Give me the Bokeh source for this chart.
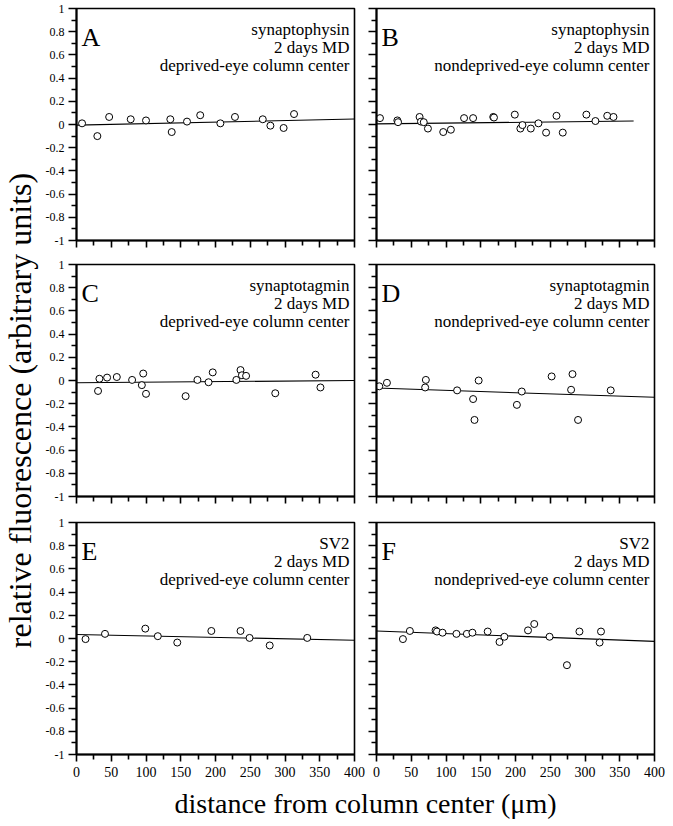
import numpy as np
from bokeh.plotting import figure
from bokeh.models import FixedTicker, Label, Range1d, CustomJSTickFormatter
from bokeh.layouts import row, column
from bokeh.embed import file_html
from bokeh.resources import INLINE

FONT = "Liberation Serif"

# ---------------- data ----------------
x_ticks = [0, 50, 100, 150, 200, 250, 300, 350, 400]
x_minor = [25, 75, 125, 175, 225, 275, 325, 375]
y_ticks = [-1, -0.8, -0.6, -0.4, -0.2, 0, 0.2, 0.4, 0.6, 0.8, 1]
y_tick_labels = ["-1", "-0.8", "-0.6", "-0.4", "-0.2", "0", "0.2", "0.4", "0.6", "0.8", "1"]
y_minor = [-0.9, -0.7, -0.5, -0.3, -0.1, 0.1, 0.3, 0.5, 0.7, 0.9]

a_x = [8, 30, 47, 78, 100, 135, 137, 159, 178, 207, 228, 268, 279, 298, 313]
a_y = [0.01, -0.10, 0.065, 0.045, 0.035, 0.045, -0.065, 0.025, 0.08, 0.01, 0.065, 0.045, -0.01, -0.03, 0.09]
a_fit_x = [0, 400]
a_fit_y = [-0.005, 0.047]

b_x = [5, 30, 31, 62, 64, 68, 74, 96, 107, 126, 139, 168, 169, 199, 207, 210, 222, 233, 244, 259, 268, 302, 315, 332, 341]
b_y = [0.055, 0.035, 0.02, 0.065, 0.025, 0.02, -0.035, -0.065, -0.045, 0.055, 0.055, 0.065, 0.06, 0.085, -0.035,
       -0.005, -0.035, 0.01, -0.07, 0.075, -0.07, 0.085, 0.03, 0.075, 0.065]
b_fit_x = [0, 370]
b_fit_y = [0.005, 0.03]

c_x = [31, 33, 44, 58, 80, 94, 96, 100, 157, 174, 190, 196, 230, 236, 238, 244, 286, 344, 351]
c_y = [-0.09, 0.015, 0.025, 0.03, 0.005, -0.04, 0.06, -0.115, -0.135, 0.005, -0.015, 0.07, 0.005, 0.09, 0.045,
       0.04, -0.11, 0.05, -0.06]
c_fit_x = [0, 400]
c_fit_y = [-0.02, 0.0]

d_x = [4, 15, 70, 71, 116, 139, 141, 147, 202, 209, 252, 280, 282, 290, 337]
d_y = [-0.05, -0.02, -0.06, 0.005, -0.085, -0.16, -0.34, 0.0, -0.21, -0.095, 0.035, -0.08, 0.055, -0.34, -0.085]
d_fit_x = [0, 400]
d_fit_y = [-0.065, -0.145]

e_x = [13, 41, 99, 117, 145, 194, 236, 249, 278, 332]
e_y = [-0.005, 0.04, 0.085, 0.02, -0.035, 0.065, 0.065, 0.005, -0.06, 0.005]
e_fit_x = [0, 400]
e_fit_y = [0.035, -0.015]

f_x = [38, 48, 85, 87, 95, 115, 130, 138, 160, 177, 184, 218, 227, 249, 274, 292, 321, 323]
f_y = [-0.005, 0.065, 0.07, 0.06, 0.05, 0.04, 0.04, 0.05, 0.06, -0.03, 0.015, 0.07, 0.125, 0.015, -0.23, 0.06,
       -0.035, 0.06]
f_fit_x = [0, 400]
f_fit_y = [0.065, -0.025]

panel_letters = ["A", "B", "C", "D", "E", "F"]
proteins = ["synaptophysin", "synaptophysin", "synaptotagmin", "synaptotagmin", "SV2", "SV2"]
condition = "2 days MD"
columns_txt = ["deprived-eye column center", "nondeprived-eye column center"]
x_title = "distance from column center (\u03bcm)"
y_title = "relative fluorescence (arbitrary units)"

# ---------------- layout ----------------
FW, FH = 278, 232
PX_X = FW / 400.0   # px per x unit
PX_Y = FH / 2.0     # px per y unit
YT_W = 40
LB, RB_L, LB_R, RB = 36, 12, 10, 12
TOP = [8, 8, 8]
BOT = [16, 18, 28]

empty_fmt = CustomJSTickFormatter(code="return '';")


def make_panel(idx, xs, ys, fx, fy, col, rowi):
    left = col == 0
    bottom = rowi == 2
    p = figure(frame_width=FW, frame_height=FH,
               x_range=Range1d(0, 400), y_range=Range1d(-1, 1),
               output_backend="svg", toolbar_location=None,
               min_border_left=LB if left else LB_R,
               min_border_right=RB_L if left else RB,
               min_border_top=TOP[rowi],
               min_border_bottom=BOT[rowi])
    p.grid.visible = False
    p.background_fill_color = "white"
    p.border_fill_color = "white"
    p.outline_line_color = "black"
    p.outline_line_width = 1.6

    xa = p.xaxis[0]
    xa.ticker = FixedTicker(ticks=x_ticks, minor_ticks=x_minor)
    ya = p.yaxis[0]
    ya.ticker = FixedTicker(ticks=y_ticks, minor_ticks=y_minor)
    for ax in (xa, ya):
        ax.axis_line_width = 2
        ax.axis_line_color = "black"
        ax.major_tick_line_width = 1.6
        ax.minor_tick_line_width = 1.6
        ax.major_tick_line_color = "black"
        ax.minor_tick_line_color = "black"
        ax.major_tick_in = 0
        ax.minor_tick_in = 0
        ax.major_label_text_font = FONT
        ax.major_label_text_color = "black"
    xa.major_tick_out = 7
    xa.minor_tick_out = 5
    ya.major_tick_out = 8
    ya.minor_tick_out = 5

    if bottom:
        xa.major_label_text_font_size = "14px"
        xa.major_label_standoff = 5
    else:
        xa.formatter = empty_fmt
        xa.major_label_standoff = 0
    if left:
        ya.major_label_overrides = {v: s for v, s in zip(y_ticks, y_tick_labels)}
        ya.major_label_text_font_size = "12px"
        ya.major_label_standoff = 4
    else:
        ya.formatter = empty_fmt
        ya.major_label_standoff = 0

    p.line(fx, fy, line_color="black", line_width=1.1)
    p.scatter(xs, ys, marker="circle", size=7, fill_color="white",
              line_color="black", line_width=1)

    # panel letter
    p.add_layout(Label(x=5 / PX_X, y=1 - 29 / PX_Y, text=panel_letters[idx],
                       text_font=FONT, text_font_size="26px", text_color="black",
                       text_align="left", text_baseline="alphabetic"))
    lines = [proteins[idx], condition, columns_txt[col]]
    offs = [21, 39, 57]
    for t, o in zip(lines, offs):
        p.add_layout(Label(x=400 - 5 / PX_X, y=1 - o / PX_Y, text=t,
                           text_font=FONT, text_font_size="17px", text_color="black",
                           text_align="right", text_baseline="alphabetic"))
    return p


data = [(a_x, a_y, a_fit_x, a_fit_y), (b_x, b_y, b_fit_x, b_fit_y),
        (c_x, c_y, c_fit_x, c_fit_y), (d_x, d_y, d_fit_x, d_fit_y),
        (e_x, e_y, e_fit_x, e_fit_y), (f_x, f_y, f_fit_x, f_fit_y)]

panels = []
for i, (xs, ys, fx, fy) in enumerate(data):
    panels.append(make_panel(i, xs, ys, fx, fy, i % 2, i // 2))

GRID_W = (LB + FW + RB_L) + (LB_R + FW + RB)
ROWS_H = sum(TOP) + sum(BOT) + 3 * FH
TOTAL_H = 824
XT_H = TOTAL_H - ROWS_H

xt = figure(frame_width=GRID_W, frame_height=XT_H, x_range=Range1d(0, GRID_W), y_range=Range1d(0, XT_H),
            output_backend="svg", toolbar_location=None, min_border=0,
            x_axis_location=None, y_axis_location=None)
xt.grid.visible = False
xt.outline_line_color = None
# centred under the two plot frames, vertically centred in the strip
frames_mid = (LB + (LB + FW + RB_L + LB_R + FW)) / 2.0
xt.add_layout(Label(x=frames_mid, y=XT_H / 2.0, text=x_title,
                    text_font=FONT, text_font_size="28px", text_color="black",
                    text_align="center", text_baseline="middle"))

grid = column(row(panels[0], panels[1]), row(panels[2], panels[3]),
              row(panels[4], panels[5]), xt)

yt = figure(frame_width=YT_W, frame_height=TOTAL_H, x_range=Range1d(0, YT_W), y_range=Range1d(0, TOTAL_H),
            output_backend="svg", toolbar_location=None, min_border=0,
            x_axis_location=None, y_axis_location=None)
yt.grid.visible = False
yt.outline_line_color = None
yt.add_layout(Label(x=19, y=TOTAL_H - 410, text=y_title, angle=np.pi / 2,
                    text_font=FONT, text_font_size="32px", text_color="black",
                    text_align="center", text_baseline="middle"))

layout = row(yt, grid)

open("out.html", "w").write(file_html(layout, INLINE))
